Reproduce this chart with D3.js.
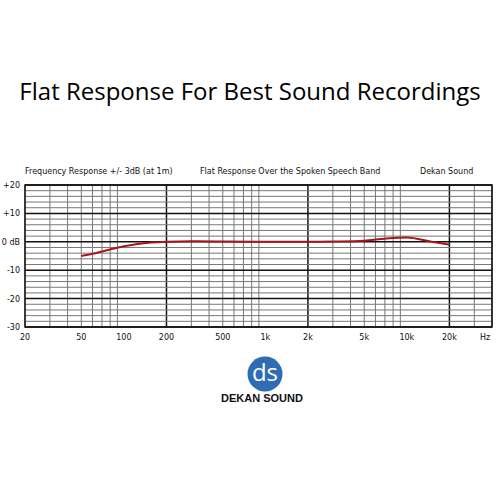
<!DOCTYPE html>
<html>
<head>
<meta charset="utf-8">
<script src="https://cdn.jsdelivr.net/npm/d3@7"></script>
<style>
  body { margin: 0; background: #fff; }
  text { font-family: "DejaVu Sans", Verdana, sans-serif; }
</style>
</head>
<body>
<script>
// response curve
var freqs = [50, 60, 70, 80, 100, 125, 150, 200, 300, 500, 1000, 2000, 3000, 5000, 7000, 10000, 15000, 20000];
var levels = [-5, -4.2, -3.4, -2.7, -1.6, -0.8, -0.3, 0, 0.2, 0.1, 0, 0, 0.1, 0.4, 1.1, 1.5, 0, -1];

var xTicks = [20, 50, 100, 200, 500, 1000, 2000, 5000, 10000, 20000];
var xTickLabels = ["20", "50", "100", "200", "500", "1k", "2k", "5k", "10k", "20k"];
var yTicks = [20, 10, 0, -10, -20, -30];
var yTickLabels = ["+20", "+10", "0 dB", "-10", "-20", "-30"];
var headers = ["Frequency Response +/- 3dB (at 1m)", "Flat Response Over the Spoken Speech Band", "Dekan Sound"];

var width = 500, height = 500;

var svg = d3.select("body").append("svg")
	.attr("width", width)
	.attr("height", height);

var x = d3.scaleLog().domain([20, 40000]).range([25, 492]);
var y = d3.scaleLinear().domain([-30, 20]).range([327, 185]);

/* title */
svg.append("text")
	.attr("x", 250).attr("y", 100)
	.attr("text-anchor", "middle")
	.style("font-family", "'Open Sans', sans-serif")
	.style("font-size", "24px")
	.attr("fill", "#000")
	.text("Flat Response For Best Sound Recordings");

/* header line */
var headerX = [25, 200, 420];
svg.selectAll(".hdr").data(headers).enter().append("text")
	.attr("class", "hdr")
	.attr("x", function(d, i) { return headerX[i]; })
	.attr("y", 174)
	.style("font-size", "8px")
	.attr("fill", "#111")
	.text(function(d) { return d; });

/* grid */
var vlines = [];
[10, 100, 1000, 10000].forEach(function(dec) {
	for (var k = 2; k <= 9; k++) {
		var f = k * dec;
		if (f >= 20 && f <= 40000) vlines.push(f);
	}
});
vlines.push(40000);
var major = [200, 2000, 20000];

var grid = svg.append("g");
grid.selectAll(".v").data(vlines).enter().append("line")
	.attr("x1", function(d) { return x(d); })
	.attr("x2", function(d) { return x(d); })
	.attr("y1", y(20)).attr("y2", y(-30))
	.attr("stroke", function(d) { return major.indexOf(d) >= 0 ? "#111" : "#777"; })
	.attr("stroke-width", function(d) { return major.indexOf(d) >= 0 ? 1.5 : 1; });

grid.selectAll(".h").data(d3.range(-30, 21, 2)).enter().append("line")
	.attr("x1", x(20)).attr("x2", x(40000))
	.attr("y1", function(d) { return y(d); })
	.attr("y2", function(d) { return y(d); })
	.attr("stroke", function(d) { return d % 10 === 0 ? "#111" : "#777"; })
	.attr("stroke-width", function(d) { return d % 10 === 0 ? 1.5 : 1; });

grid.append("rect")
	.attr("x", x(20)).attr("y", y(20))
	.attr("width", x(40000) - x(20))
	.attr("height", y(-30) - y(20))
	.attr("fill", "none")
	.attr("stroke", "#111")
	.attr("stroke-width", 1.5);

/* axis labels */
svg.selectAll(".yl").data(yTicks).enter().append("text")
	.attr("x", 20)
	.attr("y", function(d) { return y(d) + 3; })
	.attr("text-anchor", "end")
	.style("font-size", "8px")
	.attr("fill", "#111")
	.text(function(d, i) { return yTickLabels[i]; });

svg.selectAll(".xl").data(xTicks).enter().append("text")
	.attr("x", function(d) { return x(d); })
	.attr("y", 340)
	.attr("text-anchor", "middle")
	.style("font-size", "8px")
	.attr("fill", "#111")
	.text(function(d, i) { return xTickLabels[i]; });

svg.append("text")
	.attr("x", 485).attr("y", 340)
	.attr("text-anchor", "middle")
	.style("font-size", "8px")
	.attr("fill", "#111")
	.text("Hz");

/* response curve */
var line = d3.line()
	.x(function(d) { return x(d[0]); })
	.y(function(d) { return y(d[1]); })
	.curve(d3.curveMonotoneX);

svg.append("path")
	.datum(d3.zip(freqs, levels))
	.attr("d", line)
	.attr("fill", "none")
	.attr("stroke", "#a8161c")
	.attr("stroke-width", 2);

/* logo */
var logo = svg.append("g").attr("transform", "translate(265,374)");
logo.append("circle").attr("r", 17.5).attr("fill", "#2f6db3");
logo.append("text")
	.attr("y", 7)
	.attr("text-anchor", "middle")
	.style("font-family", "'Open Sans', sans-serif")
	.style("font-size", "24px")
	.attr("fill", "#fff")
	.text("ds");

svg.append("text")
	.attr("x", 262).attr("y", 402)
	.attr("text-anchor", "middle")
	.style("font-family", "'Liberation Sans', Arial, sans-serif")
	.style("font-weight", "bold")
	.style("font-size", "11px")
	.attr("fill", "#111")
	.text("DEKAN SOUND");
</script>
</body>
</html>
